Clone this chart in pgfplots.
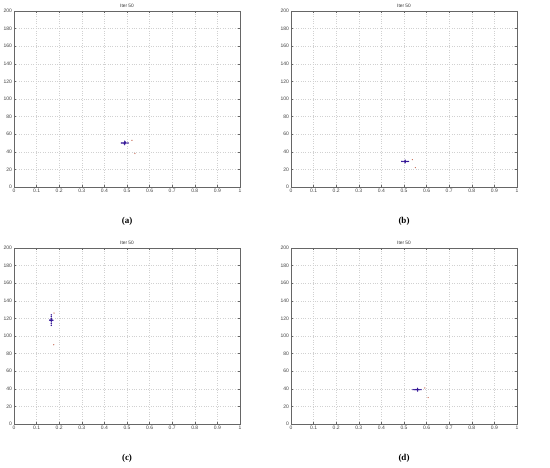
\documentclass[border=0pt]{standalone}
\usepackage{fontspec}
\setmainfont{Liberation Sans}
\newfontfamily\capfont{Liberation Serif}
\usepackage{pgfplots}
\pgfplotsset{compat=1.18}

\definecolor{clus}{RGB}{50,20,150}
\definecolor{dotc}{RGB}{200,110,90}

\pgfplotsset{
  iterpanel/.style={
    scale only axis, width=226pt, height=176pt,
    anchor=south west,
    xmin=0, xmax=1, ymin=0, ymax=200,
    xtick={0,0.1,...,1}, ytick={0,20,...,200},
    xticklabels={0,0.1,0.2,0.3,0.4,0.5,0.6,0.7,0.8,0.9,1},
    grid=major, grid style={black!18, dotted, line width=0.35pt},
    tick align=inside, tick pos=both, major tick length=2pt,
    tick style={black!60, line width=0.3pt},
    axis line style={black!60, line width=0.4pt},
    ticklabel style={font=\fontsize{5}{6}\selectfont, text=black!75},
    /pgf/number format/assume math mode=true,
    xticklabel style={yshift=1.5pt},
    yticklabel style={xshift=1.5pt},
    title={Iter 50},
    title style={font=\fontsize{4.8}{5}\selectfont, anchor=center, at={(0.5,1)}, yshift=-1pt, text=black!80},
  },
  clusterplot/.style={only marks, mark=*, mark size=0.45pt, clus},
  strayplot/.style={only marks, mark=*, mark size=0.35pt, dotc},
}

\begin{document}
\begin{tikzpicture}
\path[use as bounding box] (0pt,0pt) rectangle (550pt,468pt);

% (a)
\begin{axis}[iterpanel, at={(14pt,281pt)}]
\addplot[clusterplot] coordinates {
  (0.475,50) (0.48,50) (0.485,50) (0.49,50) (0.495,50) (0.50,50) (0.505,50)
  (0.49,48) (0.49,52) (0.488,49) (0.492,51)
};
\addplot[clusterplot, mark size=0.8pt] coordinates {(0.49,50)};
\addplot[strayplot] coordinates {(0.522,53) (0.535,38)};
\end{axis}

% (b)
\begin{axis}[iterpanel, at={(291pt,281pt)}]
\addplot[clusterplot] coordinates {
  (0.49,29) (0.495,29) (0.50,29) (0.505,29) (0.51,29) (0.515,29) (0.52,29)
  (0.505,27.5) (0.505,30.5)
};
\addplot[clusterplot, mark size=0.8pt] coordinates {(0.505,29)};
\addplot[strayplot] coordinates {(0.537,31) (0.55,22)};
\end{axis}

% (c)
\begin{axis}[iterpanel, at={(14pt,44pt)}]
\addplot[clusterplot] coordinates {
  (0.165,112) (0.165,114) (0.165,116) (0.165,118) (0.165,120) (0.165,122) (0.165,124)
  (0.158,118) (0.162,118) (0.168,118) (0.172,118)
};
\addplot[clusterplot, mark size=0.8pt] coordinates {(0.165,118)};
\addplot[strayplot] coordinates {(0.177,126) (0.176,90)};
\end{axis}

% (d)
\begin{axis}[iterpanel, at={(291pt,44pt)}]
\addplot[clusterplot] coordinates {
  (0.54,39) (0.545,39) (0.55,39) (0.555,39) (0.56,39) (0.565,39) (0.57,39) (0.575,39)
  (0.56,37.5) (0.56,40.5)
};
\addplot[clusterplot, mark size=0.8pt] coordinates {(0.56,39)};
\addplot[strayplot] coordinates {(0.592,41) (0.607,30)};
\end{axis}

\node[font=\capfont\bfseries\fontsize{9}{10}\selectfont] at (127pt,247pt) {(a)};
\node[font=\capfont\bfseries\fontsize{9}{10}\selectfont] at (404pt,247pt) {(b)};
\node[font=\capfont\bfseries\fontsize{9}{10}\selectfont] at (127pt,10pt) {(c)};
\node[font=\capfont\bfseries\fontsize{9}{10}\selectfont] at (404pt,10pt) {(d)};
\end{tikzpicture}
\end{document}
